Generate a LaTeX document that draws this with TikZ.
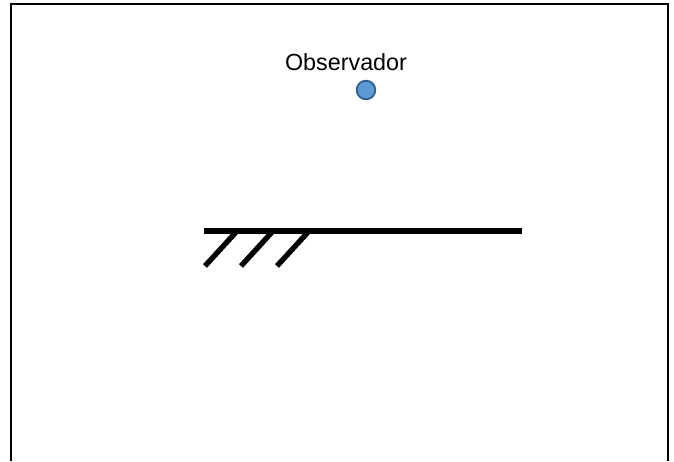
\documentclass[tikz,border=0pt]{standalone}
\usepackage{fontspec}
\setmainfont{Liberation Sans}
\usetikzlibrary{positioning}

\definecolor{dotfill}{HTML}{5B9BD5}
\definecolor{dotedge}{HTML}{2F5C8A}

\tikzset{
  frameline/.style={line width=1.6pt, black},
  groundline/.style={line width=4pt, black},
  hatchline/.style={line width=4pt, black},
  obsdot/.style={circle, draw=dotedge, fill=dotfill, line width=1.3pt, minimum size=14pt, inner sep=0pt},
}

\begin{document}
\begin{tikzpicture}[x=0.75pt, y=-0.75pt]
\useasboundingbox (0,0) rectangle (674,461);
% open frame
\draw[frameline] (11,461) -- (11,4) -- (668,4) -- (668,461);

% observer
\node[obsdot] (obs) at (366,90) {};
\node[font=\fontsize{17.5}{20}\selectfont, anchor=south] (obslabel) at (346,75) {Observador};

% ground with hatching
\coordinate (gl) at (204,231);
\coordinate (gr) at (522,231);
\draw[groundline] (gl) -- (gr);
\foreach \x in {237,273,309}{
  \draw[hatchline] (\x,231) -- ++(-32,35);
}
\end{tikzpicture}
\end{document}
